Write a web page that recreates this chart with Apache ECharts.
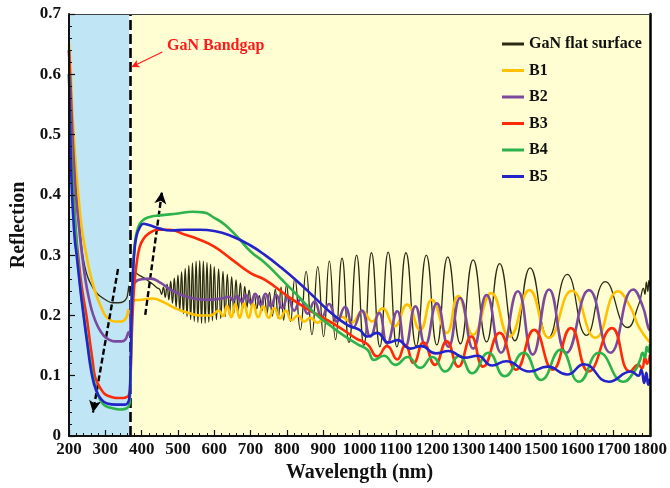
<!DOCTYPE html>
<html>
<head>
<meta charset="utf-8">
<script src="https://cdn.jsdelivr.net/npm/echarts@6/dist/echarts.min.js"></script>
<style>html,body{margin:0;padding:0;background:#fff;}#chart{width:670px;height:488px;}</style>
</head>
<body>
<div id="chart"></div>
<script>
// ---- data (wavelength nm, reflection) ----
const seriesNames = ['GaN flat surface', 'B1', 'B2', 'B3', 'B4', 'B5'];

const flatSurface = [
  [200,0.65],[204,0.58],[208,0.51],[213,0.455],[219,0.41],[225,0.37],[232,0.33],[238,0.3],[244,0.28],[252,0.263],[262,0.25],[275,0.238],[290,0.23],[306,0.224],[320,0.221],[337,0.221],[350,0.223],[358,0.228],[362,0.237],[365,0.249],[367,0.238],[370,0.252],[375,0.266],[380,0.271],[395,0.266],[412,0.26],[430,0.252],[442,0.246],
  [450,0.243],[455,0.235],[460,0.247],[465,0.230],[470,0.252],[475,0.226],[480,0.257],[485,0.220],[490,0.262],[495,0.214],[500,0.267],[505,0.208],[510,0.272],[515,0.203],[520,0.278],[525,0.198],[530,0.283],[535,0.193],[540,0.287],[545,0.190],[550,0.290],[555,0.188],[560,0.291],[565,0.187],[570,0.290],[575,0.187],[580,0.288],[585,0.189],[590,0.285],[595,0.191],[600,0.281],
  [606,0.193],[612,0.277],[618,0.195],[624,0.273],[630,0.198],[636,0.268],[642,0.200],[648,0.264],[654,0.204],[660,0.259],[666,0.207],[672,0.254],[678,0.210],[684,0.248],[690,0.213],[696,0.242],
  [703,0.214],[710,0.236],[717,0.211],[724,0.233],[731,0.207],[738,0.234],[745,0.203],[752,0.238],[760,0.199],[768,0.243],[776,0.195],[784,0.247],[791,0.192],
  [799,0.251],[810,0.19],[822,0.262],[837,0.176],[853,0.273],[869,0.168],[885,0.281],[901,0.165],[917,0.29],[934,0.16],[952,0.295],[971,0.155],[992,0.3],[1012,0.15],[1033,0.304],[1056,0.148],[1079,0.305],[1103,0.148],[1128,0.304],[1156,0.149],[1184,0.3],[1213,0.151],[1243,0.297],[1278,0.153],[1313,0.292],[1350,0.156],[1386,0.286],[1428,0.158],[1470,0.279],[1520,0.163],[1572,0.268],[1625,0.167],[1677,0.256],[1738,0.18],[1770,0.22],[1782,0.245],[1786,0.235],[1790,0.255],[1794,0.24],[1797,0.258],[1800,0.248]
];

const b1 = [
  [200,0.65],[205,0.6],[210,0.53],[218,0.455],[225,0.405],[235,0.345],[248,0.3],[260,0.265],[275,0.234],[290,0.212],[300,0.2],[312,0.193],[325,0.19],[345,0.19],[355,0.194],[360,0.2],[364,0.209],[367,0.205],[371,0.218],[376,0.225],[400,0.226],[430,0.228],[460,0.222],[500,0.21],[530,0.204],[560,0.2],[590,0.2],
  [600,0.203],[612,0.208],[624,0.199],[635,0.216],[647,0.197],[658,0.219],[670,0.196],[682,0.22],[695,0.196],[707,0.219],[721,0.197],[735,0.215],[750,0.196],[765,0.212],[781,0.195],[797,0.208],[813,0.192],[830,0.2],[848,0.19],[865,0.196],[884,0.188],[903,0.195],[926,0.187],[950,0.198],[978,0.188],[1008,0.207],[1035,0.19],[1063,0.212],[1097,0.182],[1131,0.218],[1167,0.176],[1199,0.226],[1240,0.171],[1272,0.232],[1313,0.168],[1363,0.237],[1413,0.165],[1468,0.242],[1522,0.163],[1585,0.241],[1650,0.163],[1712,0.24],[1745,0.215],[1770,0.18],[1800,0.155]
];

const b2 = [
  [200,0.64],[205,0.57],[210,0.495],[215,0.44],[219,0.4],[227,0.35],[235,0.305],[245,0.26],[255,0.228],[266,0.202],[280,0.181],[295,0.167],[310,0.16],[325,0.157],[345,0.157],[355,0.16],[361,0.168],[364,0.172],[367,0.168],[370,0.205],[374,0.242],[380,0.254],[400,0.26],[425,0.261],[450,0.255],[485,0.241],[530,0.23],[576,0.226],[621,0.228],
  [641,0.231],[652,0.225],[663,0.232],[675,0.223],[687,0.234],[700,0.221],[713,0.236],[727,0.218],[741,0.236],[756,0.215],[771,0.234],[787,0.212],[803,0.231],[820,0.208],[838,0.227],[857,0.203],[876,0.223],[896,0.197],[916,0.219],[938,0.19],[960,0.214],[983,0.18],[1006,0.208],[1030,0.165],[1054,0.204],[1076,0.153],[1104,0.207],[1126,0.148],[1154,0.215],[1181,0.151],[1213,0.22],[1245,0.148],[1277,0.229],[1313,0.145],[1350,0.234],[1390,0.138],[1436,0.24],[1477,0.135],[1522,0.243],[1570,0.138],[1632,0.242],[1691,0.138],[1754,0.243],[1780,0.215],[1795,0.18],[1800,0.175]
];

const b3 = [
  [200,0.64],[205,0.53],[210,0.44],[215,0.375],[220,0.33],[225,0.3],[232,0.262],[240,0.228],[248,0.2],[258,0.155],[265,0.125],[271,0.1],[280,0.086],[290,0.076],[300,0.069],[315,0.065],[330,0.063],[350,0.063],[360,0.065],[365,0.068],[368,0.078],[371,0.13],[375,0.2],[380,0.252],[386,0.285],[394,0.312],[404,0.326],[420,0.336],[445,0.342],[475,0.342],[520,0.334],[558,0.326],[600,0.314],[648,0.293],[700,0.27],[740,0.259],[800,0.233],[850,0.213],[900,0.196],[950,0.178],[990,0.162],[1022,0.152],
  [1049,0.132],[1076,0.149],[1104,0.127],[1126,0.151],[1149,0.121],[1176,0.155],[1208,0.118],[1240,0.157],[1272,0.115],[1308,0.165],[1340,0.115],[1386,0.171],[1431,0.11],[1481,0.176],[1532,0.11],[1582,0.179],[1631,0.107],[1695,0.179],[1745,0.107],[1768,0.118],[1778,0.112],[1786,0.13],[1792,0.12],[1800,0.135]
];

const b4 = [
  [200,0.6],[205,0.5],[210,0.425],[215,0.37],[222,0.31],[230,0.255],[240,0.205],[250,0.16],[260,0.12],[270,0.088],[280,0.068],[290,0.056],[300,0.05],[320,0.046],[340,0.044],[355,0.045],[363,0.048],[367,0.055],[370,0.11],[373,0.21],[377,0.285],[382,0.323],[390,0.345],[400,0.356],[420,0.363],[450,0.366],[500,0.369],[540,0.372],[570,0.371],[600,0.362],[630,0.35],[667,0.328],[700,0.306],[740,0.287],[785,0.26],[831,0.232],[876,0.204],[922,0.182],[958,0.166],[995,0.152],[1022,0.143],
  [1040,0.126],[1067,0.133],[1099,0.118],[1133,0.131],[1167,0.113],[1201,0.131],[1236,0.107],[1275,0.133],[1310,0.104],[1355,0.138],[1400,0.099],[1452,0.138],[1500,0.093],[1554,0.143],[1605,0.09],[1660,0.138],[1727,0.09],[1758,0.108],[1772,0.125],[1780,0.138],[1786,0.13],[1791,0.148],[1796,0.14],[1800,0.152]
];

const b5 = [
  [200,0.6],[203,0.52],[207,0.42],[212,0.36],[216,0.325],[221,0.3],[230,0.25],[239,0.205],[250,0.155],[262,0.105],[275,0.075],[290,0.06],[305,0.054],[330,0.052],[355,0.052],[362,0.055],[366,0.062],[369,0.1],[372,0.19],[376,0.265],[380,0.305],[386,0.332],[395,0.346],[405,0.352],[420,0.35],[450,0.344],[480,0.341],[520,0.342],[560,0.342],[600,0.34],[650,0.331],[700,0.316],[740,0.3],[785,0.279],[830,0.256],[876,0.23],[922,0.204],[967,0.184],[1000,0.176],
  [1022,0.165],[1048,0.171],[1080,0.155],[1105,0.159],[1140,0.145],[1170,0.149],[1210,0.137],[1245,0.141],[1290,0.13],[1325,0.133],[1365,0.117],[1404,0.124],[1468,0.107],[1518,0.115],[1572,0.102],[1618,0.119],[1686,0.09],[1748,0.107],[1768,0.1],[1776,0.11],[1784,0.088],[1790,0.105],[1795,0.085],[1800,0.095]
];

const seriesData = [flatSurface, b1, b2, b3, b4, b5];

// annotations (data coordinates)
const bandgapNm = 370;
const uvRange = [200, 370];
const visRange = [370, 1800];
const downArrow = [[335, 0.277], [266, 0.039]];
const upArrow = [[410, 0.201], [456, 0.405]];
const bandgapPointer = [[457, 0.637], [372, 0.612]];
const bandgapLabelAt = [604, 0.647];

// ---- styles ----
const colors = ['#2b2b14', '#ffc000', '#7b4a9f', '#ff2a0a', '#2db34b', '#2323c8'];
const widths = [1.3, 2.6, 2.6, 2.6, 2.6, 2.6];
const FONT = '"Liberation Serif", "Times New Roman", serif';

const chart = echarts.init(document.getElementById('chart'), null, {renderer: 'canvas'});

const dataSeries = seriesNames.map((name, i) => ({
  name: name,
  type: 'line',
  data: seriesData[i],
  showSymbol: false,
  symbol: 'none',
  smooth: 0.5,
  sampling: 'none',
  z: 3 + i,
  lineStyle: {color: colors[i], width: widths[i]},
  itemStyle: {color: colors[i]},
  emphasis: {disabled: true}
}));

const option = {
  animation: false,
  backgroundColor: '#ffffff',
  grid: {left: 69, right: 15, top: 14, bottom: 52},
  legend: {
    data: seriesNames,
    orient: 'vertical',
    left: 497,
    top: 31,
    icon: 'rect',
    itemWidth: 22,
    itemHeight: 3,
    itemGap: 10.5,
    textStyle: {fontFamily: FONT, fontWeight: 'bold', fontSize: 16, color: '#111'}
  },
  xAxis: [{
    type: 'value', min: 200, max: 1800, interval: 100, z: 40,
    name: 'Wavelength (nm)', nameLocation: 'middle', nameGap: 25,
    nameTextStyle: {fontFamily: FONT, fontWeight: 'bold', fontSize: 20, color: '#111'},
    axisLine: {show: true, onZero: false, lineStyle: {color: '#111', width: 2}},
    axisTick: {show: true, inside: true, length: 6, lineStyle: {color: '#111', width: 1.2}},
    minorTick: {show: true, splitNumber: 5, length: 3, lineStyle: {color: '#111', width: 1}},
    splitLine: {show: false},
    axisLabel: {fontFamily: FONT, fontWeight: 'bold', fontSize: 17, color: '#111', margin: 5,
      showMinLabel: true, showMaxLabel: true, hideOverlap: false,
      formatter: v => String(Math.round(v))}
  }, {
    type: 'value', min: 200, max: 1800, position: 'top', z: 40,
    axisLine: {show: true, onZero: false, lineStyle: {color: '#444', width: 1.2}},
    axisTick: {show: false}, axisLabel: {show: false}, splitLine: {show: false}
  }],
  yAxis: [{
    type: 'value', min: 0, max: 0.7, interval: 0.1, z: 40,
    name: 'Reflection', nameLocation: 'middle', nameGap: 37,
    nameTextStyle: {fontFamily: FONT, fontWeight: 'bold', fontSize: 20, color: '#111'},
    axisLine: {show: true, onZero: false, lineStyle: {color: '#111', width: 2}},
    axisTick: {show: true, inside: true, length: 6, lineStyle: {color: '#111', width: 1.2}},
    minorTick: {show: true, splitNumber: 5, length: 3, lineStyle: {color: '#111', width: 1}},
    splitLine: {show: false},
    axisLabel: {fontFamily: FONT, fontWeight: 'bold', fontSize: 17, color: '#111', margin: 8,
      showMinLabel: true, showMaxLabel: true,
      formatter: v => (v === 0 ? '0' : v.toFixed(1))}
  }, {
    type: 'value', min: 0, max: 0.7, position: 'right', z: 40,
    axisLine: {show: true, onZero: false, lineStyle: {color: '#000', width: 2.5}},
    axisTick: {show: false}, axisLabel: {show: false}, splitLine: {show: false}
  }],
  series: [
    {
      name: 'regions', type: 'line', data: [], z: 1, silent: true,
      markArea: {
        silent: true,
        data: [
          [{xAxis: uvRange[0], itemStyle: {color: '#c0e6f6'}}, {xAxis: uvRange[1]}],
          [{xAxis: visRange[0], itemStyle: {color: '#fffed3'}}, {xAxis: visRange[1]}]
        ]
      }
    },
    ...dataSeries,
    {
      name: 'bandgapBase', type: 'line', data: [], z: 20, silent: true,
      markLine: {
        silent: true, symbol: ['none', 'none'], animation: false,
        label: {show: false},
        lineStyle: {color: '#ffffff', width: 2.6, type: 'solid'},
        data: [{xAxis: bandgapNm}]
      }
    },
    {
      name: 'bandgapLine', type: 'line', data: [], z: 21, silent: true,
      markLine: {
        silent: true, symbol: ['none', 'none'], animation: false,
        label: {show: false},
        lineStyle: {color: '#000000', width: 2.6, type: [10, 4]},
        data: [{xAxis: bandgapNm}]
      }
    },
    {
      name: 'trendArrows', type: 'line', data: [], z: 22, silent: true,
      markLine: {
        silent: true, symbol: ['none', 'arrow'], symbolSize: [9, 12], animation: false,
        label: {show: false},
        lineStyle: {color: '#000000', width: 2.4, type: [6, 3]},
        data: [
          [{coord: downArrow[0]}, {coord: downArrow[1]}],
          [{coord: upArrow[0]}, {coord: upArrow[1]}]
        ]
      }
    },
    {
      name: 'bandgapPointer', type: 'line', data: [], z: 23, silent: true,
      markLine: {
        silent: true, symbol: ['none', 'arrow'], symbolSize: [6, 8], animation: false,
        label: {show: false},
        lineStyle: {color: '#ff1a1a', width: 1.2, type: 'solid'},
        data: [[{coord: bandgapPointer[0]}, {coord: bandgapPointer[1]}]]
      },
      markPoint: {
        silent: true, symbol: 'circle', symbolSize: 0, animation: false,
        label: {show: true, position: 'inside', formatter: 'GaN Bandgap',
          fontFamily: FONT, fontWeight: 'bold', fontSize: 16, color: '#ff1a1a'},
        data: [{coord: bandgapLabelAt}]
      }
    }
  ]
};

chart.setOption(option);
</script>
</body>
</html>
